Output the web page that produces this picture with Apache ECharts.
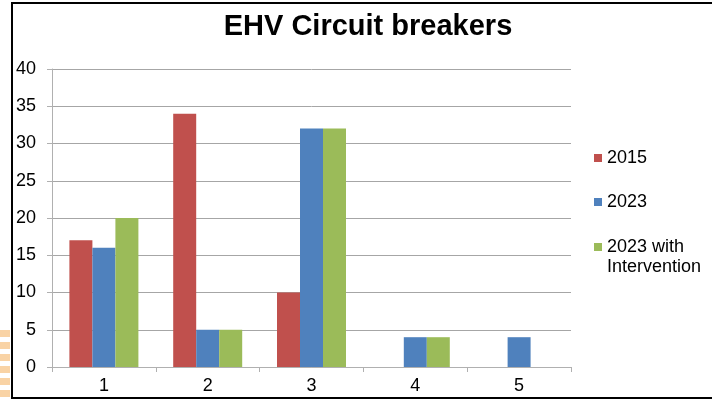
<!DOCTYPE html>
<html>
<head>
<meta charset="utf-8">
<script src="https://cdn.jsdelivr.net/npm/echarts@6/dist/echarts.min.js"></script>
<style>
  html, body { margin: 0; padding: 0; background: #fff; }
  #chart { width: 712px; height: 401px; }
</style>
</head>
<body>
<div id="chart"></div>
<script>
const categories = ['1', '2', '3', '4', '5'];
const s2015 = [17, 34, 10, null, null];
const s2023 = [16, 5, 32, 4, 4];
const s2023Int = [20, 5, 32, 4, null];
const seriesNames = ['2015', '2023', '2023 with\nIntervention'];
const colors = ['#c0504d', '#4f81bd', '#9bbb59'];

const chart = echarts.init(document.getElementById('chart'), null, { renderer: 'canvas' });

// decorative stripes left of the frame
const stripes = [];
for (let i = 0; i < 6; i++) {
  stripes.push({
    type: 'rect',
    shape: { x: 0, y: 330 + i * 12, width: 10, height: 7 },
    style: { fill: '#f9d3a5' }
  });
}

const legendText = { fontFamily: 'Liberation Sans', fontSize: 18, color: '#000', lineHeight: 20 };
const legendBase = {
  orient: 'vertical',
  left: 589,
  itemWidth: 8,
  itemHeight: 8,
  icon: 'rect',
  textStyle: legendText
};

const option = {
  animation: false,
  color: colors,
  title: {
    text: 'EHV Circuit breakers',
    left: 363,
    top: 7,
    textAlign: 'center',
    textStyle: { fontFamily: 'Liberation Sans', fontSize: 29, fontWeight: 'bold', color: '#000' }
  },
  graphic: [
    ...stripes,
    {
      type: 'rect',
      shape: { x: 12, y: 3, width: 720, height: 395 },
      style: { fill: null, stroke: '#000', lineWidth: 2 }
    }
  ],
  legend: [
    Object.assign({}, legendBase, { top: 143, data: [seriesNames[0]] }),
    Object.assign({}, legendBase, { top: 187, data: [seriesNames[1]] }),
    // square sits at the top of a taller icon box so it lines up with the first text line
    Object.assign({}, legendBase, {
      top: 232,
      itemHeight: 28,
      icon: 'path://M0,0h8v8h-8z M0,27.99h8v0.01h-8z',
      data: [seriesNames[2]]
    })
  ],
  grid: { left: 52, right: 141, top: 69, bottom: 34 },
  xAxis: {
    type: 'category',
    data: categories,
    axisLine: { lineStyle: { color: '#b0b0b0' } },
    axisTick: { show: true, length: 5, lineStyle: { color: '#b0b0b0' } },
    axisLabel: { fontFamily: 'Liberation Sans', fontSize: 18, color: '#000', margin: 10 }
  },
  yAxis: {
    type: 'value',
    min: 0,
    max: 40,
    interval: 5,
    axisLine: { show: true, lineStyle: { color: '#b0b0b0' } },
    axisTick: { show: true, length: 5, lineStyle: { color: '#b0b0b0' } },
    splitLine: { lineStyle: { color: '#a6a6a6' } },
    axisLabel: { fontFamily: 'Liberation Sans', fontSize: 18, color: '#000', margin: 16 }
  },
  series: [
    { name: seriesNames[0], type: 'bar', data: s2015, barWidth: 23, barGap: '0%' },
    { name: seriesNames[1], type: 'bar', data: s2023, barWidth: 23, barGap: '0%' },
    { name: seriesNames[2], type: 'bar', data: s2023Int, barWidth: 23, barGap: '0%' }
  ]
};

chart.setOption(option);
</script>
</body>
</html>
